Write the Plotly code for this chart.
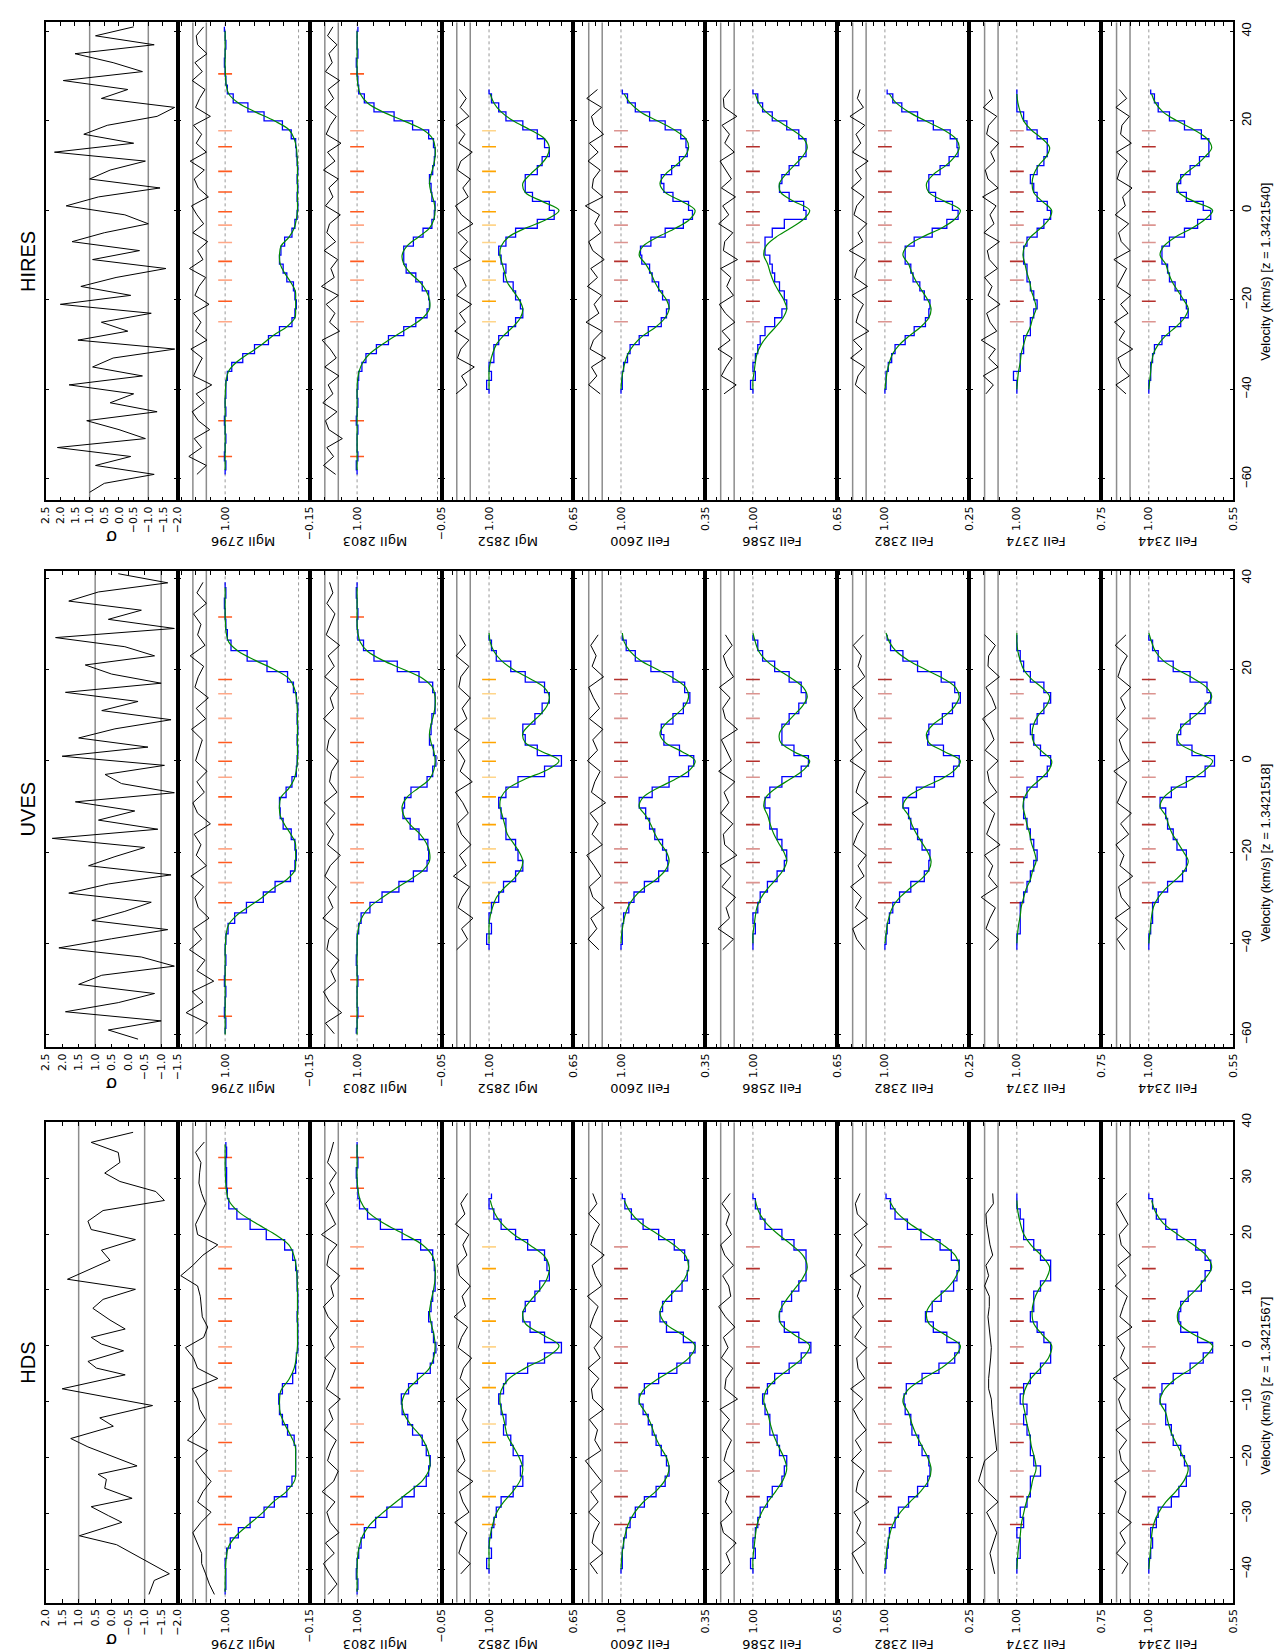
import numpy as np
import plotly.graph_objects as go

W, H = 1288, 1651

# ---------------- categories / labels ----------------
PANELS = ["HIRES", "UVES", "HDS"]
Z_TEXT = ["1.3421540", "1.3421518", "1.3421567"]
TRANSITIONS = ["MgII 2796", "MgII 2803", "MgI 2852", "FeII 2600",
               "FeII 2586", "FeII 2382", "FeII 2374", "FeII 2344"]
FLUX_MIN = [-0.15, -0.05, 0.65, 0.35, 0.65, 0.25, 0.75, 0.55]
SIGMA_RANGE = [(-2.0, 2.5), (-1.5, 2.5), (-2.0, 2.0)]
VEL_RANGE = [(-64.8, 42.0), (-62.8, 41.6), (-46.0, 40.0)]
VEL_TICKS = [[-60, -40, -20, 0, 20, 40], [-60, -40, -20, 0, 20, 40],
             [-40, -30, -20, -10, 0, 10, 20, 30, 40]]

# pixel grids (step, start for MgII, start for others)
GRID = [(2.0, -59.0, -41.0), (2.3, -59.8, -41.4), (1.84, -44.5, -40.82)]

# ---------------- model profiles (Voigt fits) ----------------
MODEL_V_MG = list(range(-62, 44, 2))     # -62 .. 42
MODEL_V = list(range(-44, 40, 2))        # -44 .. 38

model_mg2796 = [1.0, 1.0, 1.0, 1.0, 1.0, 1.0, 1.0, 1.0, 1.0,
                1.00, 1.00, 0.995, 0.985, 0.955, 0.85, 0.68, 0.50, 0.35, 0.16, 0.05, 0.04, 0.04, 0.045,
                0.11, 0.19, 0.25, 0.26, 0.24, 0.13, 0.06, 0.03,
                0.015, 0.015, 0.015, 0.015, 0.015, 0.015, 0.02, 0.03, 0.06, 0.13, 0.33, 0.59, 0.82,
                0.95, 0.985, 0.995, 1.0, 1.0, 1.0, 1.0,
                1.0, 1.0]
model_mg2803 = [1.0, 1.0, 1.0, 1.0, 1.0, 1.0, 1.0, 1.0, 1.0,
                1.0, 1.0, 1.0, 0.995, 0.975, 0.93, 0.84, 0.69, 0.52, 0.34, 0.18, 0.10, 0.10, 0.14,
                0.22, 0.34, 0.42, 0.44, 0.38, 0.24, 0.10, 0.045,
                0.03, 0.045, 0.08, 0.10, 0.08, 0.05, 0.03, 0.03, 0.06, 0.18, 0.42, 0.68, 0.87,
                0.96, 0.99, 1.0, 1.0, 1.0, 1.0, 1.0,
                1.0, 1.0]
model_mg2852 = [1.0, 1.0, 1.0, 1.0, 1.0, 0.995, 0.985, 0.97, 0.94, 0.90, 0.87, 0.86, 0.875, 0.90,
                0.925, 0.935, 0.945, 0.955, 0.95, 0.92, 0.85, 0.76,
                0.71, 0.78, 0.85, 0.86, 0.83, 0.79, 0.76, 0.75, 0.77, 0.83, 0.90, 0.95, 0.98, 0.995,
                1.0, 1.0, 1.0, 1.0, 1.0, 1.0]
model_fe2600 = [1.0, 1.0, 1.0, 0.995, 0.985, 0.97, 0.945, 0.90, 0.83, 0.73, 0.66, 0.63, 0.65, 0.70,
                0.74, 0.77, 0.81, 0.86, 0.83, 0.72, 0.58, 0.47,
                0.43, 0.53, 0.66, 0.70, 0.66, 0.58, 0.51, 0.48, 0.50, 0.59, 0.72, 0.85, 0.93, 0.975,
                0.99, 1.0, 1.0, 1.0, 1.0, 1.0]
model_fe2586 = [1.0, 1.0, 1.0, 1.0, 0.995, 0.99, 0.983, 0.966, 0.939, 0.905, 0.875, 0.86, 0.872, 0.894,
                0.914, 0.928, 0.939, 0.955, 0.946, 0.905, 0.845, 0.79,
                0.765, 0.83, 0.885, 0.89, 0.865, 0.83, 0.795, 0.775, 0.79, 0.838, 0.897, 0.946,
                0.976, 0.99, 1.0, 1.0, 1.0, 1.0, 1.0, 1.0]
model_fe2382 = [1.0, 1.0, 1.0, 0.99, 0.98, 0.96, 0.93, 0.87, 0.78, 0.68, 0.61, 0.59, 0.62, 0.67,
                0.72, 0.76, 0.79, 0.84, 0.80, 0.67, 0.50, 0.38,
                0.33, 0.47, 0.61, 0.63, 0.57, 0.46, 0.38, 0.34, 0.37, 0.48, 0.64, 0.79, 0.90, 0.96,
                0.99, 1.0, 1.0, 1.0, 1.0, 1.0]
model_fe2374 = [1.0, 1.0, 1.0, 0.998, 0.995, 0.99, 0.987, 0.98, 0.972, 0.96, 0.953, 0.943, 0.948,
                0.957, 0.962, 0.97, 0.976, 0.982, 0.977, 0.96, 0.93, 0.905,
                0.897, 0.925, 0.95, 0.955, 0.95, 0.936, 0.913, 0.903, 0.925, 0.958, 0.98, 0.99,
                0.997, 1.0, 1.0, 1.0, 1.0, 1.0, 1.0, 1.0]
model_fe2344 = [1.0, 1.0, 1.0, 0.995, 0.99, 0.985, 0.975, 0.95, 0.91, 0.855, 0.81, 0.79, 0.815,
                0.845, 0.875, 0.895, 0.91, 0.94, 0.92, 0.86, 0.77, 0.70,
                0.66, 0.76, 0.84, 0.845, 0.81, 0.75, 0.70, 0.665, 0.69, 0.76, 0.85, 0.925, 0.965,
                0.985, 1.0, 1.0, 1.0, 1.0, 1.0, 1.0]

# ---------------- HIRES data (flux per pixel, low -> high velocity) ----------------
hires_mg2796 = [1.00, 0.99, 1.01, 1.00, 0.99, 1.00, 1.01, 0.99,
                1.00, 0.99, 0.99, 0.97, 0.91, 0.76, 0.60, 0.41, 0.26, 0.09,
                0.05, 0.03, 0.05, 0.07, 0.16, 0.21, 0.26, 0.24, 0.19, 0.09,
                0.05, 0.02, 0.01, 0.02, 0.01, 0.02, 0.01, 0.02, 0.03, 0.04,
                0.10, 0.22, 0.47, 0.69, 0.89, 0.97, 0.99, 1.00, 1.01, 1.00, 0.99, 1.00, 1.01]
hires_mg2803 = [1.00, 1.01, 0.99, 1.00, 1.00, 0.99, 1.01, 1.00, 0.99,
                1.00, 0.99, 0.98, 0.94, 0.89, 0.76, 0.61, 0.42, 0.27, 0.13,
                0.10, 0.11, 0.19, 0.27, 0.39, 0.42, 0.42, 0.30, 0.18, 0.07,
                0.04, 0.03, 0.07, 0.08, 0.10, 0.06, 0.04, 0.03, 0.05, 0.11,
                0.31, 0.54, 0.79, 0.91, 0.98, 0.99, 1.00, 1.01, 0.99, 1.00, 1.00, 0.99]
hires_mg2852 = [1.00, 1.01, 0.99, 1.00, 0.98, 0.98, 0.96, 0.92, 0.89, 0.86, 0.87, 0.89, 0.90, 0.94,
                0.93, 0.95, 0.96, 0.93, 0.89, 0.80, 0.73, 0.75, 0.82, 0.85, 0.85, 0.80, 0.78, 0.75,
                0.77, 0.80, 0.86, 0.93, 0.96, 0.99, 1.00]
hires_fe2600 = [1.00, 0.99, 0.99, 0.98, 0.95, 0.93, 0.86, 0.79, 0.69, 0.65, 0.63, 0.68, 0.71, 0.76,
                0.78, 0.84, 0.85, 0.77, 0.66, 0.52, 0.45, 0.48, 0.60, 0.67, 0.69, 0.61, 0.55, 0.49,
                0.50, 0.54, 0.66, 0.78, 0.89, 0.95, 0.99]
hires_fe2586 = [1.00, 1.01, 0.99, 1.00, 0.99, 0.98, 0.97, 0.95, 0.91, 0.88, 0.86, 0.87, 0.89, 0.91,
                0.92, 0.93, 0.95, 0.95, 0.92, 0.87, 0.78, 0.79, 0.85, 0.89, 0.88, 0.85, 0.81, 0.78,
                0.78, 0.81, 0.86, 0.92, 0.96, 0.98, 1.00]
hires_fe2382 = [1.00, 0.99, 0.99, 0.97, 0.94, 0.91, 0.82, 0.74, 0.64, 0.61, 0.60, 0.65, 0.69, 0.75,
                0.77, 0.82, 0.82, 0.74, 0.58, 0.45, 0.35, 0.40, 0.55, 0.61, 0.61, 0.51, 0.43, 0.35,
                0.36, 0.42, 0.57, 0.71, 0.85, 0.93, 0.98]
hires_fe2374 = [1.00, 1.00, 1.01, 0.99, 0.99, 0.98, 0.98, 0.96, 0.96, 0.95, 0.94, 0.95, 0.96, 0.97,
                0.97, 0.98, 0.98, 0.97, 0.94, 0.92, 0.90, 0.91, 0.94, 0.95, 0.96, 0.94, 0.92, 0.91,
                0.91, 0.94, 0.97, 0.98, 1.00, 1.00, 1.00]
hires_fe2344 = [1.00, 1.00, 0.99, 0.99, 0.98, 0.97, 0.93, 0.89, 0.83, 0.79, 0.80, 0.83, 0.86, 0.89,
                0.90, 0.93, 0.93, 0.89, 0.81, 0.74, 0.67, 0.71, 0.80, 0.85, 0.83, 0.78, 0.73, 0.68,
                0.68, 0.72, 0.81, 0.89, 0.95, 0.97, 0.99]

# ---------------- UVES data ----------------
uves_mg2796 = [1.00, 0.99, 1.01, 1.00, 0.99, 1.01, 1.00, 0.99,
               1.00, 0.99, 0.96, 0.87, 0.71, 0.48, 0.32, 0.11, 0.05, 0.03,
               0.05, 0.10, 0.21, 0.25, 0.26, 0.17, 0.09, 0.03, 0.02, 0.01,
               0.02, 0.01, 0.02, 0.01, 0.03, 0.07, 0.15, 0.43, 0.70, 0.92, 0.97,
               0.99, 1.00, 1.01, 0.99, 1.00]
uves_mg2803 = [1.01, 1.00, 0.99, 1.00, 1.00, 0.99, 1.00, 1.01,
               1.00, 1.00, 0.98, 0.95, 0.84, 0.69, 0.48, 0.30, 0.13, 0.11,
               0.12, 0.23, 0.34, 0.43, 0.41, 0.33, 0.13, 0.06, 0.02, 0.05,
               0.10, 0.08, 0.07, 0.03, 0.03, 0.06, 0.23, 0.50, 0.79, 0.92, 0.99,
               1.00, 0.99, 1.00, 1.01, 1.00]
uves_mg2852 = [1.00, 1.01, 0.99, 1.00, 0.99, 0.96, 0.94, 0.89, 0.86, 0.88, 0.89, 0.93, 0.93, 0.95,
               0.96, 0.93, 0.88, 0.77, 0.70, 0.80, 0.85, 0.86, 0.81, 0.78, 0.75, 0.77, 0.85, 0.91,
               0.97, 0.99, 1.00]
uves_fe2600 = [1.00, 0.99, 0.99, 0.98, 0.94, 0.90, 0.82, 0.71, 0.64, 0.65, 0.68, 0.74, 0.78, 0.81,
               0.86, 0.76, 0.63, 0.48, 0.44, 0.55, 0.67, 0.69, 0.60, 0.52, 0.47, 0.51, 0.60, 0.77,
               0.89, 0.96, 0.99]
uves_fe2586 = [1.00, 1.00, 0.99, 1.00, 0.98, 0.97, 0.94, 0.90, 0.87, 0.86, 0.88, 0.90, 0.93, 0.93,
               0.95, 0.93, 0.88, 0.80, 0.77, 0.83, 0.88, 0.88, 0.85, 0.81, 0.78, 0.80, 0.85, 0.91,
               0.96, 0.98, 1.00]
uves_fe2382 = [1.00, 0.99, 0.98, 0.96, 0.93, 0.87, 0.77, 0.65, 0.61, 0.60, 0.67, 0.71, 0.77, 0.79,
               0.84, 0.72, 0.56, 0.39, 0.34, 0.48, 0.62, 0.61, 0.49, 0.40, 0.33, 0.38, 0.50, 0.71,
               0.84, 0.95, 0.98]
uves_fe2374 = [1.00, 1.00, 0.99, 0.99, 0.99, 0.98, 0.97, 0.96, 0.95, 0.94, 0.95, 0.96, 0.97, 0.98,
               0.98, 0.97, 0.94, 0.91, 0.90, 0.93, 0.95, 0.96, 0.94, 0.92, 0.90, 0.92, 0.96, 0.98,
               0.99, 1.00, 1.00]
uves_fe2344 = [1.00, 1.00, 0.99, 0.98, 0.98, 0.95, 0.90, 0.82, 0.80, 0.80, 0.85, 0.87, 0.90, 0.91,
               0.94, 0.88, 0.80, 0.70, 0.65, 0.77, 0.85, 0.83, 0.78, 0.70, 0.67, 0.69, 0.78, 0.87,
               0.95, 0.98, 1.00]

# ---------------- HDS data ----------------
hds_mg2796 = [1.00, 0.99, 0.99, 1.00, 0.98, 0.93, 0.82, 0.66, 0.47, 0.33, 0.16, 0.09, 0.04, 0.04,
              0.04, 0.06, 0.15, 0.22, 0.26, 0.27, 0.22, 0.08, 0.04, 0.03, 0.01, 0.01, 0.01, 0.02,
              0.01, 0.01, 0.02, 0.02, 0.04, 0.08, 0.19, 0.44, 0.66, 0.84, 0.95, 0.97, 0.98, 0.98,
              0.99, 0.98, 0.99]
hds_mg2803 = [1.00, 0.99, 1.01, 1.00, 0.98, 0.95, 0.91, 0.77, 0.63, 0.44, 0.29, 0.14, 0.11, 0.09,
              0.14, 0.19, 0.31, 0.37, 0.44, 0.45, 0.36, 0.25, 0.09, 0.05, 0.02, 0.05, 0.07, 0.11,
              0.08, 0.06, 0.03, 0.03, 0.04, 0.06, 0.21, 0.44, 0.71, 0.87, 0.97, 0.99, 1.00, 1.01,
              0.99, 1.00, 1.00]
hds_mg2852 = [1.00, 1.01, 0.99, 1.00, 0.99, 0.98, 0.97, 0.95, 0.90, 0.86, 0.87, 0.86, 0.90, 0.91,
              0.94, 0.93, 0.95, 0.96, 0.94, 0.93, 0.84, 0.77, 0.70, 0.77, 0.83, 0.86, 0.85, 0.81,
              0.79, 0.75, 0.76, 0.77, 0.84, 0.89, 0.95, 0.98, 1.00, 0.99]
hds_fe2600 = [1.00, 0.99, 0.99, 0.98, 0.96, 0.93, 0.89, 0.82, 0.73, 0.66, 0.63, 0.65, 0.69, 0.73,
              0.76, 0.79, 0.83, 0.86, 0.82, 0.71, 0.57, 0.47, 0.43, 0.52, 0.65, 0.70, 0.68, 0.61,
              0.53, 0.49, 0.48, 0.51, 0.59, 0.71, 0.83, 0.92, 0.97, 0.99]
hds_fe2586 = [1.00, 1.01, 0.99, 1.00, 0.99, 0.98, 0.97, 0.94, 0.92, 0.88, 0.87, 0.86, 0.89, 0.90,
              0.93, 0.93, 0.95, 0.96, 0.94, 0.91, 0.85, 0.80, 0.76, 0.81, 0.87, 0.89, 0.88, 0.84,
              0.81, 0.78, 0.78, 0.78, 0.83, 0.88, 0.95, 0.97, 0.99, 1.00]
hds_fe2382 = [1.00, 0.99, 0.98, 0.97, 0.96, 0.91, 0.88, 0.79, 0.71, 0.62, 0.60, 0.61, 0.67, 0.70,
              0.76, 0.77, 0.82, 0.83, 0.81, 0.67, 0.52, 0.38, 0.34, 0.45, 0.57, 0.64, 0.58, 0.50,
              0.39, 0.36, 0.34, 0.41, 0.51, 0.68, 0.80, 0.91, 0.95, 0.99]
hds_fe2374 = [1.00, 1.00, 0.99, 0.99, 1.00, 0.98, 0.99, 0.97, 0.96, 0.96, 0.93, 0.95, 0.96, 0.96,
              0.97, 0.98, 0.97, 0.99, 0.98, 0.96, 0.93, 0.90, 0.90, 0.92, 0.94, 0.96, 0.95, 0.95,
              0.93, 0.90, 0.90, 0.93, 0.95, 0.98, 0.98, 0.99, 1.00, 1.00]
hds_fe2344 = [1.00, 1.00, 0.99, 0.98, 0.99, 0.96, 0.95, 0.88, 0.84, 0.80, 0.78, 0.81, 0.83, 0.87,
              0.88, 0.91, 0.91, 0.94, 0.93, 0.87, 0.78, 0.71, 0.66, 0.74, 0.83, 0.84, 0.83, 0.79,
              0.72, 0.70, 0.67, 0.70, 0.75, 0.85, 0.91, 0.96, 0.98, 1.00]

# ---------------- normalised residuals (sigma) ----------------
hires_r2796 = [0.4, -1.0, 1.6, -0.3, 0.8, -1.5, 0.2, 1.1, -0.7, 0.5, -1.8, 0.9, 0.3, -0.4, 1.3, -1.1, 0.6,
               -0.2, 0.9, -1.4, 0.7, 0.1, -0.9, 1.5, -0.5, 0.3, -1.2, 1.0, -0.6, 0.4, 1.2, -1.3, 0.2, 0.8,
               -0.7, 1.4, -1.0, 0.5, -0.3, 0.9, -1.6, 0.6, 0.0, -0.8, 1.1, -0.4, 0.7, -1.1, 0.3, 0.5, -0.6]
hires_r2803 = [-0.6, 1.2, -0.3, 0.7, -1.6, 0.4, 0.9, -0.8, 1.3, -0.2, 0.5, -1.1, 1.0, -0.7, 0.2, 1.4, -1.2,
               0.3, -0.5, 0.8, -1.0, 1.5, -0.4, 0.1, -0.9, 1.1, -0.6, 0.7, 0.3, -1.3, 0.9, -0.2, 0.4, -1.0,
               1.2, -0.5, 0.6, -1.4, 0.8, 0.2, -0.7, 1.0, -0.3, 0.5, -1.2, 0.9, -0.1, 0.4, -0.8, 0.6, -0.2]
hires_r2852 = [1.1, -0.5, 0.3, -1.6, 0.9, 0.4, -0.8, 1.3, -0.3, 0.6, -1.2, 1.0, -0.4, 0.2, 1.5, -1.1, 0.5,
               -0.6, 0.8, -1.4, 0.3, 1.2, -0.7, 0.1, -1.0, 0.9, 0.4, -1.3, 0.7, -0.2, 1.1, -0.8, 0.5, -0.4, 0.6]
hires_r2600 = [-0.7, 1.0, -0.2, 0.6, -1.5, 0.8, 0.3, -1.0, 1.4, -0.5, 0.2, -0.9, 1.2, -0.3, 0.7, -1.3, 0.4,
               1.0, -0.8, 0.1, -0.6, 1.5, -1.1, 0.5, 0.3, -0.7, 1.1, -0.4, 0.9, -1.2, 0.2, 0.6, -0.9, 1.3, -0.3]
hires_r2586 = [0.5, -1.3, 0.9, 0.2, -0.7, 1.4, -0.4, 0.8, -1.1, 0.3, 1.2, -0.9, 0.1, -0.5, 1.0, -1.5, 0.6,
               0.4, -0.8, 1.3, -0.2, 0.7, -1.2, 0.9, -0.6, 0.2, 1.1, -1.0, 0.4, -0.3, 0.8, -1.4, 0.5, 0.6, -0.4]
hires_r2382 = [-1.0, 0.6, 0.2, -0.8, 1.3, -0.4, 0.9, -1.4, 0.5, 0.1, -0.6, 1.1, -1.2, 0.7, 0.3, -0.9, 1.5,
               -0.5, 0.2, -1.1, 0.8, 0.4, -0.7, 1.2, -0.3, 0.6, -1.3, 1.0, -0.2, 0.5, -0.8, 1.4, -0.6, 0.3, -0.1]
hires_r2374 = [0.8, -0.3, 1.2, -1.0, 0.4, -0.6, 1.5, -0.8, 0.2, 0.7, -1.3, 0.5, -0.1, 1.0, -0.9, 0.3, 0.6,
               -1.2, 1.1, -0.4, 0.2, -0.7, 1.3, -1.0, 0.5, 0.9, -0.5, 0.1, -1.1, 0.7, 0.4, -0.8, 1.2, -0.2, 0.3]
hires_r2344 = [-0.4, 1.1, -0.9, 0.3, 0.8, -1.4, 0.6, -0.2, 1.3, -0.7, 0.4, -1.1, 0.9, 0.2, -0.5, 1.4, -1.0,
               0.3, 0.7, -0.8, 1.2, -0.3, 0.1, -1.3, 0.9, 0.5, -0.6, 1.0, -1.2, 0.4, 0.2, -0.9, 1.1, -0.5, 0.6]

uves_r2796 = [0.6, -1.2, 2.0, -0.5, 1.1, -2.1, 0.4, -0.8, 1.5, -0.3, 0.9, -1.4, 0.2, 0.7, -0.6, 1.3, -1.0,
              0.5, -0.2, 0.8, -1.6, 0.3, 1.0, -0.7, 0.4, -1.1, 0.6, 0.1, -0.4, 1.2, -0.9, 0.5, -1.3, 0.7,
              0.2, -0.6, 1.4, -0.8, 0.3, -0.2, 0.9, -1.0, 0.4, -0.5]
uves_r2803 = [-0.4, 0.9, -1.5, 0.3, 1.2, -0.6, 0.1, -1.1, 0.7, 0.4, -0.9, 1.3, -0.2, 0.5, -0.7, 1.0, 0.2,
              -1.3, 0.6, -0.3, 0.8, -0.5, 1.1, -0.8, 0.3, 0.0, -1.0, 0.7, 0.4, -0.6, 1.2, -0.3, 0.2, -0.9,
              1.0, -0.4, 0.5, -1.2, 0.8, 0.1, -0.5, 0.7, -0.2, 0.3]
uves_r2852 = [1.0, -0.6, 0.3, -1.4, 0.8, 0.2, -0.9, 1.5, -0.4, 0.6, -1.1, 0.3, 0.9, -0.7, 0.1, 1.2, -1.3,
              0.5, -0.2, 0.8, -0.9, 1.4, -0.5, 0.2, -1.0, 0.7, 0.4, -0.8, 1.1, -0.3, 0.6]
uves_r2600 = [-0.5, 1.1, -0.2, 0.7, -1.3, 0.4, 0.9, -0.8, 0.2, 1.3, -1.0, 0.5, -0.4, 0.8, -1.5, 0.6, 0.1,
              -0.7, 1.2, -0.3, 0.4, -1.1, 0.9, -0.6, 0.3, 1.0, -1.2, 0.5, -0.1, 0.7, -0.4]
uves_r2586 = [0.7, -0.9, 1.4, -0.3, 0.2, -1.2, 0.8, -0.5, 1.1, -1.4, 0.4, 0.6, -0.8, 1.0, -0.2, 0.5, -1.1,
              1.3, -0.6, 0.2, 0.9, -1.5, 0.3, 0.7, -0.4, 1.2, -0.9, 0.1, 0.6, -0.7, 0.3]
uves_r2382 = [-0.8, 0.4, 1.0, -1.2, 0.6, -0.3, 1.3, -0.7, 0.2, -1.0, 0.9, 0.3, -0.6, 1.1, -1.3, 0.5, 0.0,
              -0.9, 1.4, -0.4, 0.7, -1.1, 0.3, 0.8, -0.5, 1.0, -0.8, 0.2, -0.3, 0.9, -0.6]
uves_r2374 = [0.3, -1.1, 0.8, 0.2, -0.6, 1.5, -0.9, 0.4, -0.2, 1.0, -1.3, 0.7, 0.1, -0.5, 1.2, -0.8, 0.3,
              0.6, -1.0, 0.9, -0.4, 0.2, 1.3, -0.7, -0.1, 0.8, -1.2, 0.5, 0.4, -0.6, 1.0]
uves_r2344 = [-0.2, 0.9, -0.6, 1.2, -1.0, 0.3, 0.7, -1.4, 0.5, -0.1, 1.1, -0.8, 0.4, -1.2, 0.9, 0.2, -0.5,
              1.4, -0.9, 0.1, 0.6, -0.7, 1.0, -0.3, 0.4, -1.1, 0.8, 0.3, -0.6, 1.2, -0.4]

hds_r2796 = [-2.2, -1.45, -0.9, -0.3, -0.3, 0.3, 1.0, -0.2, -1.7, 0.3, -0.5, -1.7, -0.4, 0.6, -1.2, 1.8,
             0.2, -0.9, 0.0, 0.3, 1.1, -2.7, 0.3, 0.9, 2.1, -0.6, -1.2, -0.4, -0.2, -0.1, 0.3, 2.8, 1.0,
             -0.5, -2.7, 0.3, 0.6, -0.2, -0.9, -0.3, 0.1, 0.0, -0.2, 0.6, -0.7]
hds_r2803 = [0.5, -0.8, 0.3, 1.2, -0.4, 0.9, -1.1, 0.2, 0.7, -0.5, 1.4, -0.3, -1.0, 0.6, 0.1, -0.7, 1.1,
             -0.2, 0.4, -1.3, 0.8, 0.0, -0.6, 1.0, -0.4, 0.3, -0.9, 0.5, 1.2, -0.3, 0.1, -1.2, 0.7, 0.4,
             -0.8, 1.5, -0.6, 0.2, 0.9, -0.4, 0.3, -0.7, 0.6, 0.1, -0.3]
hds_r2852 = [0.4, -1.0, 0.7, 0.2, -0.5, 1.3, -0.8, 0.1, 0.6, -1.4, 0.9, -0.2, 0.3, 1.0, -0.7, 0.2, -0.4,
             1.1, -0.9, 0.5, 0.0, -1.2, 0.8, 0.3, -0.6, 1.4, -0.3, 0.2, -1.0, 0.6, 0.9, -0.5, 0.1, -0.8,
             1.2, -0.2, 0.4, -0.6]
hds_r2600 = [-0.3, 0.8, -1.1, 0.5, 0.2, -0.6, 1.0, -0.4, 0.7, -0.9, 0.3, 1.5, -0.8, 0.1, -0.3, 0.9, -1.2,
             0.4, 0.6, -0.5, 1.1, -0.7, 0.2, -1.0, 0.8, 0.3, -0.4, 1.2, -0.9, 0.0, 0.5, -1.3, 0.7, 0.2,
             -0.6, 1.0, -0.2, 0.4]
hds_r2586 = [0.9, -0.4, 0.2, -1.3, 0.6, 1.0, -0.7, 0.3, -0.2, 1.4, -1.0, 0.5, 0.1, -0.6, 0.8, -0.3, 1.1,
             -1.5, 0.4, 0.2, -0.8, 0.9, -0.1, 0.6, -1.1, 0.3, 1.3, -0.5, -0.2, 0.7, -0.9, 0.4, 1.0, -0.6,
             0.2, -0.3, 0.8, -0.4]
hds_r2382 = [-0.6, 0.3, 1.1, -0.9, 0.4, -0.2, 0.8, -1.4, 0.5, 0.2, -0.7, 1.2, -0.3, 0.6, -1.0, 0.1, 0.9,
             -0.5, 1.3, -0.8, 0.2, 0.4, -1.1, 0.7, -0.3, 1.0, -0.6, 0.3, -0.2, 1.4, -0.9, 0.5, -0.4, 0.8,
             -1.2, 0.3, 0.6, -0.1]
hds_r2374 = [-0.5, -0.1, 0.2, -0.3, -0.8, -0.1, 0.7, -1.0, 0.6, 1.9, 1.5, 1.0, -0.8, -0.6, -0.5, -0.3,
             -0.1, 0.0, 0.4, 0.4, 0.2, 0.1, 0.0, 0.2, 0.4, 0.5, 0.3, 0.3, 1.0, 0.4, 0.8, -0.2, 0.2, 0.5,
             0.7, 0.8, -0.3, -0.2]
hds_r2344 = [0.2, -0.7, 1.0, -0.3, 0.5, -1.2, 0.8, 0.1, -0.4, 1.3, -0.9, 0.3, 0.6, -0.5, 1.1, -1.0, 0.2,
             0.7, -0.3, 1.5, -0.8, 0.4, -0.2, 0.9, -1.3, 0.5, 0.0, -0.6, 1.2, -0.4, 0.8, -1.1, 0.3, 0.6,
             -0.7, 0.2, 1.0, -0.5]

# ---------------- sigma panel (top strip) ----------------
hires_sig_v = list(range(41, -65, -2))
hires_sig = [-0.5, 0.8, -1.2, 1.5, 0.2, -0.8, 1.9, -0.3, 0.6, -1.9, -1.3, 0.4, 1.2, -0.5, 2.2, -0.9, 0.3,
             1.0, -1.4, 0.7, 1.8, -0.2, -1.0, 0.5, 1.6, -0.7, 0.9, -1.6, 0.1, 1.3, -0.4, 2.0, -1.1, 0.6,
             -0.3, 1.4, -1.9, 0.2, 0.9, -0.8, 1.7, -0.5, 0.3, -1.3, 1.1, 0.0, -0.9, 2.1, -0.4, 0.8, -1.2,
             0.5, 1.0]
uves_sig_v = list(range(41, -63, -2))
uves_sig = [0.3, -1.2, 0.9, 1.8, -0.4, 0.6, -1.4, 2.2, 0.1, -0.8, 1.3, 0.5, -1.0, 1.9, -0.3, 0.8, -1.3,
            0.4, 1.5, -0.6, 2.0, -1.1, 0.7, 0.2, -1.4, 1.6, -0.2, 0.9, -0.9, 2.3, -0.5, 0.4, 1.2, -1.3,
            0.6, 1.8, -0.7, 0.1, 1.1, -1.2, 0.5, 2.1, -0.4, -1.4, 0.8, 1.5, -0.8, 0.3, 1.9, -1.0, 0.6, -0.3]
hds_sig_v = [38.2, 36.4, 34.6, 32.8, 30.9, 29.4, 27.6, 26.0, 24.2, 22.3, 20.8, 19.0, 17.1, 15.3, 11.9,
             10.1, 8.3, 6.7, 4.6, 3.0, 1.5, 0.3, -0.9, -2.8, -4.0, -5.2, -7.7, -10.7, -12.9, -14.4, -16.6,
             -18.1, -21.5, -23.0, -23.9, -25.5, -27.3, -28.8, -30.4, -31.6, -34.0, -35.6, -40.8, -42.0, -44.5]
hds_sig = [-0.65, 0.62, -0.2, -0.25, 0.21, -0.25, -1.34, -1.6, 0.26, 0.72, 0.62, -0.72, 0.31, 0.05, 1.34,
           -0.72, 0.26, 0.57, 0.05, -0.41, 0.62, 0.31, -0.36, 0.72, 0.46, -0.41, 1.5, -1.24, 0.36, -0.05,
           1.24, 0.72, -0.77, 0.41, 0.16, 0.21, -0.62, 0.62, 0.1, -0.31, 0.98, -0.15, -1.75, -1.29, -1.13]

# ---------------- fitted component velocities ----------------
hires_comp = [17.8, 14.2, 8.7, 4.1, -0.3, -3.3, -7.2, -11.4, -15.6, -20.3, -24.9]
hires_comp_light = [1, 0, 0, 0, 0, 1, 1, 0, 1, 0, 1]
hires_comp_mg = [30.5, -47.0, -55.0]
uves_comp = [17.8, 14.7, 9.3, 4.0, -0.1, -3.6, -7.9, -14.0, -19.3, -22.3, -26.7, -31.1]
uves_comp_light = [0, 1, 1, 0, 0, 1, 0, 0, 1, 0, 1, 0]
uves_comp_mg = [31.5, -48.0, -56.0]
hds_comp = [17.7, 13.8, 8.4, 4.4, -0.2, -3.1, -7.5, -14.0, -17.3, -22.4, -27.0, -32.0]
hds_comp_light = [1, 0, 0, 0, 1, 0, 0, 1, 0, 1, 0, 0]
hds_comp_mg = [33.7, 28.2]

DATA = [
    [hires_mg2796, hires_mg2803, hires_mg2852, hires_fe2600, hires_fe2586, hires_fe2382, hires_fe2374, hires_fe2344],
    [uves_mg2796, uves_mg2803, uves_mg2852, uves_fe2600, uves_fe2586, uves_fe2382, uves_fe2374, uves_fe2344],
    [hds_mg2796, hds_mg2803, hds_mg2852, hds_fe2600, hds_fe2586, hds_fe2382, hds_fe2374, hds_fe2344],
]
RESID = [
    [hires_r2796, hires_r2803, hires_r2852, hires_r2600, hires_r2586, hires_r2382, hires_r2374, hires_r2344],
    [uves_r2796, uves_r2803, uves_r2852, uves_r2600, uves_r2586, uves_r2382, uves_r2374, uves_r2344],
    [hds_r2796, hds_r2803, hds_r2852, hds_r2600, hds_r2586, hds_r2382, hds_r2374, hds_r2344],
]
MODELS = [model_mg2796, model_mg2803, model_mg2852, model_fe2600,
          model_fe2586, model_fe2382, model_fe2374, model_fe2344]
SIGMA = [(hires_sig_v, hires_sig), (uves_sig_v, uves_sig), (hds_sig_v, hds_sig)]
COMPS = [(hires_comp, hires_comp_light, hires_comp_mg),
         (uves_comp, uves_comp_light, uves_comp_mg),
         (hds_comp, hds_comp_light, hds_comp_mg)]

# ---------------- layout geometry (pixels) ----------------
PANEL_TOP = [5.4, 557.0, 1111.3]
PANEL_BOT = [486.0, 1036.0, 1594.5]
COL_LEFT = 32.0
COL_W = 133.3
F_ONE = 0.36                 # fractional position of flux = 1 from the column's left edge
RES_C, RES_S = 22.2, 6.8     # residual strip centre / 1-sigma offset, px from left edge
TICK_HALF = 7.0              # half length of component markers, px
FLUX_DTICK = [0.2, 0.2, 0.05, 0.1, 0.05, 0.1, 0.05, 0.05]

TICK_COL = {"Mg": ("#ff5a1f", "#ffa888"), "MgI": ("#ffa500", "#ffd58a"), "Fe": ("#b5302c", "#dc9490")}


def minus(s):
    return s.replace("-", "\u2212")


fig = go.Figure()
layout = dict(width=W, height=H, margin=dict(l=0, r=0, t=0, b=0),
              paper_bgcolor="white", plot_bgcolor="white", showlegend=False)
annotations = []


def note(xpx, ypx, text, angle, size, family="DejaVu Sans"):
    annotations.append(dict(x=xpx / W, y=1 - ypx / H, xref="paper", yref="paper", text=text,
                            textangle=angle, showarrow=False, xanchor="center", yanchor="middle",
                            font=dict(family=family, size=size, color="black")))


for p in range(3):
    top_px, bot_px = PANEL_TOP[p], PANEL_BOT[p]
    vlo, vhi = VEL_RANGE[p]
    step, start_mg, start_o = GRID[p]
    for c in range(9):
        k = p * 9 + c + 1
        xs = "" if k == 1 else str(k)
        xref, yref = "x" + xs, "y" + xs
        x0 = COL_LEFT + c * COL_W
        x1 = x0 + COL_W
        common = dict(showgrid=False, zeroline=False, showline=True, linecolor="black",
                      linewidth=1.5, mirror="ticks", ticks="inside", ticklen=4,
                      tickcolor="black", tickwidth=1)
        if c == 0:
            slo, shi = SIGMA_RANGE[p]
            tv = [round(v, 2) for v in np.arange(shi, slo - 0.01, -0.5)]
            tt = [minus(f"{v:.1f}") for v in tv]
            xrng = [shi, slo]
        else:
            t = c - 1
            fmin = FLUX_MIN[t]
            ftop = (1 - F_ONE * fmin) / (1 - F_ONE)
            xrng = [ftop, fmin]
            d = FLUX_DTICK[t]
            tv = [round(v, 3) for v in np.arange(np.ceil(fmin / d) * d, ftop, d)]
            if round(fmin, 3) not in tv:
                tv.append(round(fmin, 3))
            tt = ["1.00" if abs(v - 1) < 1e-6 else (minus(f"{fmin:.2f}") if abs(v - fmin) < 1e-6 else "")
                  for v in tv]
        layout["xaxis" + xs] = dict(common, domain=[x0 / W, x1 / W], range=xrng, anchor=yref,
                                    tickmode="array", tickvals=tv, ticktext=tt, tickangle=-90,
                                    tickfont=dict(family="DejaVu Sans", size=11, color="black"),
                                    side="bottom")
        yax = dict(common, domain=[1 - bot_px / H, 1 - top_px / H], range=[vlo, vhi],
                   anchor=xref, side="right", tickmode="array",
                   tickvals=VEL_TICKS[p], ticktext=[minus(str(v)) for v in VEL_TICKS[p]],
                   showticklabels=(c == 8), tickangle=-90,
                   tickfont=dict(family="Liberation Sans", size=13, color="black"))
        if c == 0:
            # panel name drawn as the title of the sigma strip's velocity axis (rotated, at left)
            yax.update(side="left", title=dict(text=PANELS[p], standoff=3,
                                               font=dict(family="Liberation Sans", size=20,
                                                         color="black")))
        layout["yaxis" + xs] = yax

        if c == 0:
            sv, ss = SIGMA[p]
            for lvl in (1.0, -1.0):
                fig.add_trace(go.Scatter(x=[lvl, lvl], y=[vlo, vhi], mode="lines",
                                         line=dict(color="#8c8c8c", width=1.5),
                                         xaxis=xref, yaxis=yref, hoverinfo="skip"))
            fig.add_trace(go.Scatter(x=ss, y=sv, mode="lines", line=dict(color="black", width=1),
                                     xaxis=xref, yaxis=yref))
            note((x0 + x1) / 2, bot_px + 38, "σ", 180, 18)
            continue

        t = c - 1
        fmin = FLUX_MIN[t]
        ftop = (1 - F_ONE * fmin) / (1 - F_ONE)
        span = ftop - fmin
        ppu = COL_W / span
        data = DATA[p][t]
        res = RESID[p][t]
        start = start_mg if t < 2 else start_o
        v = [start + step * i for i in range(len(data))]
        vmin_d, vmax_d = v[0], v[-1]

        def px2flux(off):
            return ftop - off / ppu

        # residual strip
        for lvl in (1.0, -1.0):
            fx = px2flux(RES_C - RES_S * lvl)
            fig.add_trace(go.Scatter(x=[fx, fx], y=[vlo, vhi], mode="lines",
                                     line=dict(color="#8c8c8c", width=1.5),
                                     xaxis=xref, yaxis=yref, hoverinfo="skip"))
        fig.add_trace(go.Scatter(x=[px2flux(RES_C - RES_S * r) for r in res], y=v[:len(res)],
                                 mode="lines", line=dict(color="black", width=1),
                                 xaxis=xref, yaxis=yref))
        # dotted reference levels
        for lvl in (0.0, 1.0):
            if fmin < lvl < ftop:
                fig.add_trace(go.Scatter(x=[lvl, lvl], y=[vlo, vhi], mode="lines",
                                         line=dict(color="#999999", width=1, dash="dot"),
                                         xaxis=xref, yaxis=yref, hoverinfo="skip"))
        # component markers
        comp, light, comp_mg = COMPS[p]
        vels = list(comp)
        lights = list(light)
        if t < 2:
            vels += list(comp_mg)
            lights += [0] * len(comp_mg)
        key = "Mg" if t < 2 else ("MgI" if t == 2 else "Fe")
        h = TICK_HALF / ppu
        for lflag in (1, 0):
            xx, yy = [], []
            for vv, lf in zip(vels, lights):
                if lf == lflag and vlo < vv < vhi:
                    xx += [1 - h, 1 + h, None]
                    yy += [vv, vv, None]
            fig.add_trace(go.Scatter(x=xx, y=yy, mode="lines",
                                     line=dict(color=TICK_COL[key][lflag], width=1.6),
                                     xaxis=xref, yaxis=yref, hoverinfo="skip"))
        # data (histogram steps)
        fig.add_trace(go.Scatter(x=data, y=v, mode="lines",
                                 line=dict(color="#0000ff", width=1.3, shape="vhv"),
                                 xaxis=xref, yaxis=yref))
        # model
        mv = MODEL_V_MG if t < 2 else MODEL_V
        mdl = MODELS[t]
        sel = [(m, vv) for m, vv in zip(mdl, mv) if vmin_d - 0.5 <= vv <= vmax_d + 0.5]
        fig.add_trace(go.Scatter(x=[s[0] for s in sel], y=[s[1] for s in sel], mode="lines",
                                 line=dict(color="#008a00", width=1.2, shape="spline"),
                                 xaxis=xref, yaxis=yref))
        note((x0 + x1) / 2, bot_px + 42, TRANSITIONS[t], 180, 13)

    # velocity axis title
    note(1264, [256, 840, 1376][p], f"Velocity (km/s) [z = {Z_TEXT[p]}]", -90, 13, "Liberation Sans")

layout["annotations"] = annotations
fig.update_layout(**layout)
fig.write_html("out.html")
